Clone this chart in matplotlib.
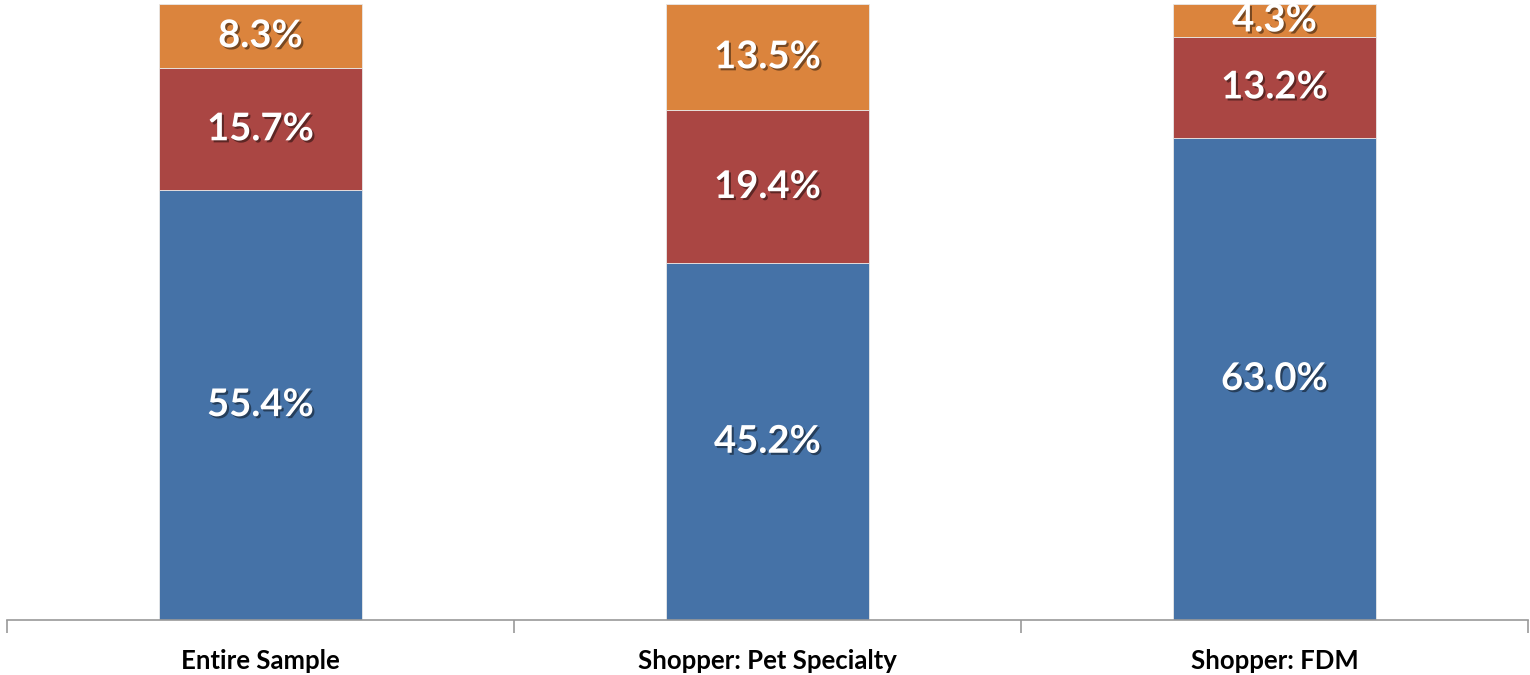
import numpy as np
import matplotlib
matplotlib.use('Agg')
import matplotlib.pyplot as plt
import matplotlib.patheffects as pe

categories = ['Entire Sample', 'Shopper: Pet Specialty', 'Shopper: FDM']
bottom_vals = [55.4, 45.2, 63.0]
middle_vals = [15.7, 19.4, 13.2]
top_vals = [8.3, 13.5, 4.3]
colors = ['#4572A7', '#AA4643', '#DB843D']

plt.rcParams['font.family'] = ['Lato', 'DejaVu Sans']

# setup figure
fig = plt.figure(figsize=(15.3, 6.75), dpi=100)
ax = fig.add_axes([7 / 1530, 55 / 675, 1521 / 1530, 616 / 675])

# 100% stacked: each column normalized by its sum
series = np.array([bottom_vals, middle_vals, top_vals])
totals = series.sum(axis=0)
shares = series / totals

x = np.arange(len(categories))
base = np.zeros(len(categories))
shadow = [pe.SimplePatchShadow(offset=(1.5, -1.5), shadow_rgbFace='black', alpha=0.45),
          pe.Normal()]
for values, share, color in zip(series, shares, colors):
    ax.bar(x, share, width=0.4, bottom=base, color=color,
           edgecolor='#E8E8E8', linewidth=0.6)
    for xi, b, s, v in zip(x, base, share, values):
        ax.text(xi, b + s / 2, f'{v:.1f}%', ha='center', va='center',
                color='white', fontsize=27.5, fontweight='bold',
                path_effects=shadow)
    base += share

ax.set_xlim(-0.5, 2.5)
ax.set_ylim(0, 1)
for side in ['top', 'right', 'left']:
    ax.spines[side].set_visible(False)
ax.spines['bottom'].set_color('#999999')
ax.spines['bottom'].set_linewidth(1.2)
ax.set_yticks([])

# category boundary ticks
ax.set_xticks([-0.5, 0.5, 1.5, 2.5])
ax.set_xticklabels([])
ax.tick_params(axis='x', length=9, width=1.2, color='#999999')
ax.set_xticks(x, minor=True)
ax.set_xticklabels(categories, minor=True, fontsize=18.5, fontweight='bold')
ax.tick_params(axis='x', which='minor', length=0, pad=21)

fig.savefig('out.png', dpi=100)
plt.close(fig)
